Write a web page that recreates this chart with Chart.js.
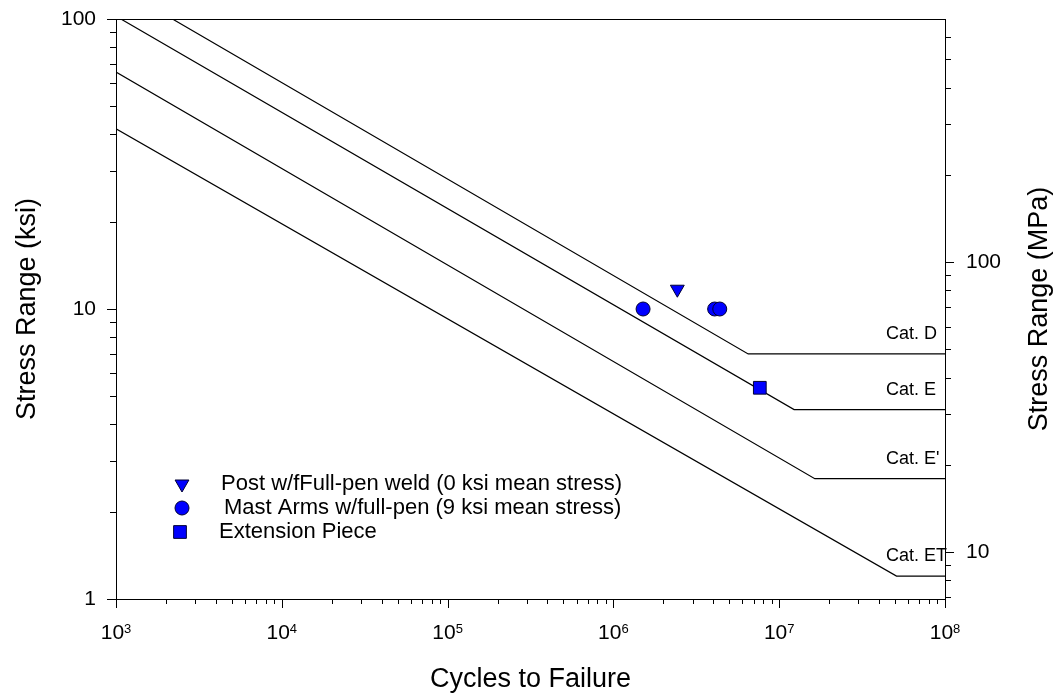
<!DOCTYPE html>
<html>
<head>
<meta charset="utf-8">
<script src="https://cdn.jsdelivr.net/npm/chart.js@4"></script>
<style>
  body { margin: 0; background: #fff; }
  #wrap { width: 1056px; height: 696px; }
</style>
</head>
<body>
<div id="wrap"><canvas id="snChart" width="1056" height="696"></canvas></div>
<script>
// S-N design curves (cycles, ksi): start, knee, end
const catD_N = [2190, 6.5e6, 1e8];
const catD_S = [100, 7, 7];
const catE_N = [1070, 1.23e7, 1e8];
const catE_S = [100, 4.5, 4.5];
const catEp_N = [1000, 1.64e7, 1e8];
const catEp_S = [65.6, 2.6, 2.6];
const catET_N = [1000, 5.1e7, 1e8];
const catET_S = [41.8, 1.2, 1.2];
const catLabels = ['Cat. D', 'Cat. E', "Cat. E'", 'Cat. ET'];
const catCafl = [7, 4.5, 2.6, 1.2];

// test results
const postN = [2.43e6];
const postS = [11.7];
const mastN = [1.51e6, 4.08e6, 4.38e6];
const mastS = [10, 10, 10];
const extN = [7.64e6];
const extS = [5.35];
const legendLabels = [
  'Post w/fFull-pen weld (0 ksi mean stress)',
  'Mast Arms w/full-pen (9 ksi mean stress)',
  'Extension Piece'
];

// axes
const xMajor = [1e3, 1e4, 1e5, 1e6, 1e7, 1e8];
const xExp = ['3', '4', '5', '6', '7', '8'];
const yMajor = [1, 10, 100];
const mpaMajor = [10, 100];
const minorMult = [2, 3, 4, 5, 6, 7, 8, 9];
const ksiToMPa = 6.895;

const pts = (xs, ys) => xs.map((x, i) => ({x: x, y: ys[i]}));

const font = '"Liberation Sans", Arial, sans-serif';

const curve = (xs, ys) => ({
  data: pts(xs, ys), showLine: true, borderColor: '#000', borderWidth: 1.2,
  pointRadius: 0, fill: false
});

const marker = (xs, ys, style, r, rot) => ({
  data: pts(xs, ys), pointStyle: style, pointRadius: r, pointHoverRadius: r,
  rotation: rot || 0, backgroundColor: '#0000ff', borderColor: '#000033',
  pointBorderWidth: 1, showLine: false
});

const legendRows = [
  {style: 'triangle', r: 8, rot: 180, mx: 182, my: 484, tx: 221},
  {style: 'circle', r: 7, rot: 0, mx: 182, my: 508, tx: 224},
  {style: 'rect', r: 9, rot: 0, mx: 180, my: 532, tx: 219}
];

const decor = {
  id: 'decor',
  afterDraw(chart) {
    const ctx = chart.ctx;
    const a = chart.chartArea;
    const xs = chart.scales.x, ys = chart.scales.y, y2 = chart.scales.y2;
    ctx.save();
    ctx.strokeStyle = '#000';
    ctx.lineWidth = 1;
    ctx.strokeRect(a.left + 0.5, a.top + 0.5, a.right - a.left, a.bottom - a.top);

    const tick = (x1, y1, x2, y2_) => {
      ctx.beginPath(); ctx.moveTo(x1, y1); ctx.lineTo(x2, y2_); ctx.stroke();
    };
    // x ticks
    xMajor.forEach((v, i) => {
      const px = Math.round(xs.getPixelForValue(v)) + 0.5;
      tick(px, a.bottom, px, a.bottom + 9);
      if (i < xMajor.length - 1) {
        minorMult.forEach(m => {
          const p = Math.round(xs.getPixelForValue(v * m)) + 0.5;
          tick(p, a.bottom, p, a.bottom + 5);
        });
      }
    });
    // left ticks
    yMajor.forEach((v, i) => {
      const py = Math.round(ys.getPixelForValue(v)) + 0.5;
      tick(a.left, py, a.left - 9, py);
      if (i < yMajor.length - 1) {
        minorMult.forEach(m => {
          const p = Math.round(ys.getPixelForValue(v * m)) + 0.5;
          tick(a.left, p, a.left - 6, p);
        });
      }
    });
    // right ticks (MPa)
    [1, 10, 100].forEach(dec => {
      [1].concat(minorMult).forEach(m => {
        const v = dec * m;
        if (v < y2.min || v > y2.max) return;
        const p = Math.round(y2.getPixelForValue(v)) + 0.5;
        const len = mpaMajor.includes(v) ? 9 : 6;
        tick(a.right, p, a.right + len, p);
      });
    });

    // tick labels
    ctx.fillStyle = '#000';
    ctx.textBaseline = 'middle';
    ctx.font = '21px ' + font;
    ctx.textAlign = 'right';
    yMajor.forEach(v => ctx.fillText(String(v), a.left - 20, ys.getPixelForValue(v)));
    ctx.textAlign = 'left';
    mpaMajor.forEach(v => ctx.fillText(String(v), a.right + 21, y2.getPixelForValue(v)));
    xMajor.forEach((v, i) => {
      const px = xs.getPixelForValue(v);
      ctx.font = '21px ' + font;
      const w1 = ctx.measureText('10').width;
      ctx.font = '13px ' + font;
      const w2 = ctx.measureText(xExp[i]).width;
      const x0 = px - (w1 + w2) / 2;
      ctx.textAlign = 'left';
      ctx.font = '21px ' + font;
      ctx.fillText('10', x0, a.bottom + 34);
      ctx.font = '13px ' + font;
      ctx.fillText(xExp[i], x0 + w1, a.bottom + 30);
    });

    // axis titles
    ctx.font = '27px ' + font;
    ctx.textAlign = 'center';
    ctx.textBaseline = 'alphabetic';
    ctx.fillText('Cycles to Failure', (a.left + a.right) / 2, a.bottom + 88);
    ctx.textBaseline = 'middle';
    const midY = (a.top + a.bottom) / 2;
    ctx.save();
    ctx.translate(28, midY);
    ctx.rotate(-Math.PI / 2);
    ctx.fillText('Stress Range (ksi)', 0, 0);
    ctx.restore();
    ctx.save();
    ctx.translate(1040, midY);
    ctx.rotate(-Math.PI / 2);
    ctx.fillText('Stress Range (MPa)', 0, 0);
    ctx.restore();

    // curve labels
    ctx.font = '18px ' + font;
    ctx.textAlign = 'left';
    catLabels.forEach((t, i) => {
      ctx.fillText(t, a.right - 59, ys.getPixelForValue(catCafl[i]) - 20);
    });

    // legend
    ctx.font = '22px ' + font;
    legendRows.forEach((row, i) => {
      ctx.fillStyle = '#0000ff';
      ctx.strokeStyle = '#000033';
      ctx.lineWidth = 1;
      Chart.helpers.drawPoint(ctx, {pointStyle: row.style, radius: row.r, rotation: row.rot, borderWidth: 1},
        row.mx, row.my);
      ctx.fillStyle = '#000';
      ctx.fillText(legendLabels[i], row.tx, row.my);
    });
    ctx.restore();
  }
};

const myChart = new Chart(document.getElementById('snChart'), {
  type: 'scatter',
  data: {
    datasets: [
      marker(postN, postS, 'triangle', 8, 180),
      marker(mastN, mastS, 'circle', 7),
      marker(extN, extS, 'rect', 9),
      curve(catD_N, catD_S),
      curve(catE_N, catE_S),
      curve(catEp_N, catEp_S),
      curve(catET_N, catET_S)
    ]
  },
  options: {
    responsive: false,
    animation: false,
    layout: {padding: {left: 116, top: 19, right: 111, bottom: 97}},
    plugins: {legend: {display: false}, tooltip: {enabled: false}},
    scales: {
      x: {type: 'logarithmic', min: 1e3, max: 1e8, display: false},
      y: {type: 'logarithmic', min: 1, max: 100, display: false},
      y2: {type: 'logarithmic', position: 'right', min: 1 * ksiToMPa, max: 100 * ksiToMPa, display: false}
    }
  },
  plugins: [decor]
});
</script>
</body>
</html>
